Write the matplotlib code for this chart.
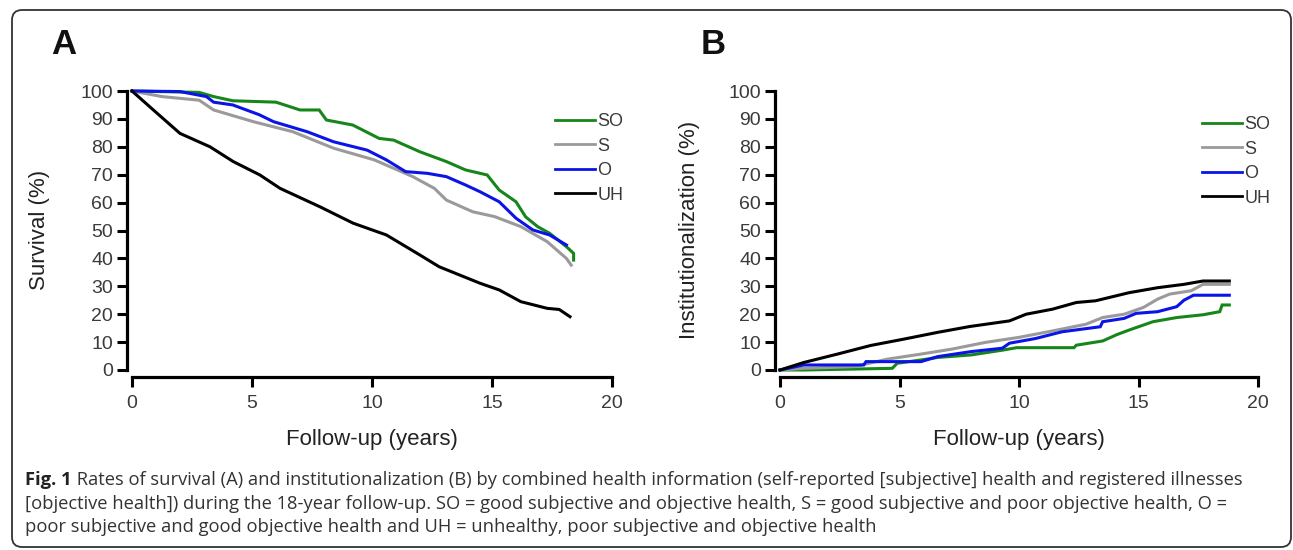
import matplotlib
matplotlib.use("Agg")
from matplotlib import pyplot as plt
from matplotlib.patches import FancyBboxPatch

plt.rcParams["font.family"] = ["Liberation Sans", "DejaVu Sans"]

# ---- data (years, percent) ----
groups = ["SO", "S", "O", "UH"]
colors = ["#17861a", "#9a9a9a", "#0a14e6", "#000000"]

# Panel A: survival
surv_so_t = [0, 2.8, 3.4, 4.2, 6.0, 7.0, 7.8, 8.1, 9.2, 10.3, 10.9, 12.0, 13.1, 13.9,
             14.8, 15.3, 16.0, 16.4, 16.9, 17.4, 18.1, 18.4, 18.4]
surv_so_v = [100, 99.5, 98, 96.5, 96, 93.2, 93.2, 89.6, 87.8, 83, 82.4, 78.2, 74.7, 71.7,
             69.9, 64.5, 60.3, 54.9, 51.4, 49, 44.2, 41.8, 39.4]
surv_s_t = [0, 1.25, 2.8, 3.4, 5.06, 6.7, 8.4, 10.1, 11.7, 12.6, 13.1, 14.2, 15.1, 16.2,
            17.3, 18.1, 18.3]
surv_s_v = [100, 98, 96.7, 93.2, 89, 85.4, 79.5, 75.3, 69.3, 65.1, 60.9, 56.7, 55, 51.4,
            46, 40, 37.6]
surv_o_t = [0, 2.0, 3.1, 3.4, 4.2, 5.3, 5.9, 7.3, 8.4, 9.8, 10.6, 11.4, 12.3, 13.1, 13.9,
            14.5, 15.3, 16.0, 16.7, 17.4, 18.1]
surv_o_v = [100, 99.8, 98, 96, 95, 91.5, 89, 85.4, 81.8, 78.8, 75.3, 71.1, 70.5, 69.3,
            66.3, 63.9, 60.3, 54.4, 50.2, 48.4, 44.8]
surv_uh_t = [0, 0.89, 2.0, 3.25, 4.22, 5.33, 6.17, 7.83, 9.22, 10.6, 12.0, 12.8, 14.5,
             15.3, 16.2, 17.3, 17.8, 18.25]
surv_uh_v = [100, 93.2, 84.8, 80, 74.7, 69.9, 65.1, 58.5, 52.6, 48.4, 41.2, 37, 31.1,
             28.7, 24.5, 22.1, 21.7, 19.1]

# Panel B: institutionalization
inst_so_t = [0, 1.0, 4.7, 4.9, 5.9, 6.6, 8.0, 9.3, 9.9, 12.3, 12.4, 13.5, 14.1, 14.6,
             15.2, 15.6, 16.6, 17.7, 18.4, 18.5, 18.8]
inst_so_v = [0, 0, 0.6, 2.4, 3.6, 4.5, 5.4, 7.1, 8.0, 8.0, 8.9, 10.4, 12.7, 14.3, 16.1,
             17.3, 18.8, 19.8, 20.9, 23.3, 23.3]
inst_s_t = [0, 1.0, 3.1, 4.5, 5.9, 7.2, 8.6, 10.0, 11.4, 12.8, 13.5, 14.4, 15.2, 15.8,
            16.3, 17.2, 17.7, 18.8]
inst_s_v = [0, 0.6, 1.2, 3.9, 5.7, 7.5, 9.9, 11.7, 14, 16.4, 18.8, 20, 22.4, 25.4, 27.2,
            28.4, 30.7, 30.7]
inst_o_t = [0, 1.0, 3.5, 3.6, 5.9, 6.6, 8.0, 9.3, 9.6, 10.7, 11.8, 13.4, 13.5, 14.4,
            14.9, 15.8, 16.6, 16.9, 17.3, 18.8]
inst_o_v = [0, 1.8, 1.8, 3, 3, 4.8, 6.6, 7.8, 9.6, 11.3, 13.7, 15.5, 17.3, 18.5, 20.3,
            20.9, 22.7, 25, 26.8, 26.8]
inst_uh_t = [0, 1.0, 2.4, 3.8, 5.2, 6.6, 7.95, 9.6, 10.3, 11.4, 12.4, 13.2, 14.6, 15.8,
             16.9, 17.7, 18.8]
inst_uh_v = [0, 2.7, 5.7, 8.8, 11.1, 13.5, 15.6, 17.6, 20, 21.8, 24.2, 24.8, 27.7, 29.5,
             30.7, 31.9, 31.9]

xticks = [0, 5, 10, 15, 20]
yticks = list(range(0, 101, 10))

W, H = 1293, 550
fig = plt.figure(figsize=(W / 100, H / 100), dpi=100)


def px(x, y):
    """pixel position (from top-left) -> figure fraction"""
    return x / W, 1 - y / H


def setup_axes(left_px, right_px, ylabel, ylabel_x, letter, letter_x):
    ax = fig.add_axes([left_px / W, (H - 370) / H, (right_px - left_px) / W, 279 / H])
    ax.set_xlim(0, 20)
    ax.set_ylim(0, 100)
    for s in ("top", "right"):
        ax.spines[s].set_visible(False)
    ax.spines["left"].set_position(("outward", 3.6))
    ax.spines["bottom"].set_position(("outward", 5))
    ax.spines["left"].set_bounds(0, 100)
    ax.spines["bottom"].set_bounds(0, 20)
    for s in ("left", "bottom"):
        ax.spines[s].set_linewidth(2.3)
    ax.set_xticks(xticks)
    ax.set_yticks(yticks)
    ax.tick_params(direction="out", length=7, width=2.2, labelsize=14,
                   labelcolor="#3a3a3a")
    ax.tick_params(axis="x", pad=6)
    ax.tick_params(axis="y", pad=3)
    ax.patch.set_alpha(0)
    fig.text(*px(ylabel_x, 230), ylabel, rotation=90, ha="center", va="center",
             fontsize=16, color="#222222")
    fig.text(*px((left_px + right_px) / 2, 440), "Follow-up (years)", ha="center",
             va="center", fontsize=16, color="#222222")
    fig.text(*px(letter_x, 45), letter, ha="center", va="center", fontsize=25,
             fontweight="bold", color="#111111")
    return ax


ax_a = setup_axes(132, 612, "Survival (%)", 40, "A", 64)
ax_b = setup_axes(780, 1258, "Institutionalization (%)", 690, "B", 713)

surv = [(surv_so_t, surv_so_v), (surv_s_t, surv_s_v), (surv_o_t, surv_o_v),
        (surv_uh_t, surv_uh_v)]
inst = [(inst_so_t, inst_so_v), (inst_s_t, inst_s_v), (inst_o_t, inst_o_v),
        (inst_uh_t, inst_uh_v)]

for ax, series, leg_x, leg_y in ((ax_a, surv, 555, 113), (ax_b, inst, 1202, 116)):
    for name, col, (t, v) in zip(groups, colors, series):
        ax.plot(t, v, color=col, lw=2.2, label=name, solid_joinstyle="miter",
                clip_on=False)
    leg = ax.legend(loc="upper left", bbox_to_anchor=px(leg_x, leg_y),
                    bbox_transform=fig.transFigure, frameon=False, fontsize=13,
                    handlelength=2.2, handletextpad=0.15, labelspacing=0.42,
                    borderpad=0, borderaxespad=0, labelcolor="#3a3a3a")
    for line in leg.get_lines():
        line.set_linewidth(2.0)

# ---- caption ----
cap_font = ["Open Sans", "DejaVu Sans"]
cap_size = 13.2
cap_rest = [
    " Rates of survival (A) and institutionalization (B) by combined health information "
    "(self-reported [subjective] health and registered illnesses",
    "[objective health]) during the 18-year follow-up. SO = good subjective and objective "
    "health, S = good subjective and poor objective health, O =",
    "poor subjective and good objective health and UH = unhealthy, poor subjective and "
    "objective health",
]
cap_y = [480, 504, 527]

bold = fig.text(*px(25, cap_y[0]), "Fig. 1", family=cap_font, fontsize=cap_size,
                fontweight="bold", color="#222222", va="center", ha="left")
renderer = fig.canvas.get_renderer()
bx = bold.get_window_extent(renderer).x1
fig.text(bx / W, 1 - cap_y[0] / H, cap_rest[0], family=cap_font, fontsize=cap_size,
         color="#333333", va="center", ha="left")
for txt, yy in zip(cap_rest[1:], cap_y[1:]):
    fig.text(*px(25, yy), txt, family=cap_font, fontsize=cap_size, color="#333333",
             va="center", ha="left")

# ---- rounded outer frame ----
frame = FancyBboxPatch((0.12, 0.03), 12.79, 5.37, boxstyle="round,pad=0,rounding_size=0.1",
                       transform=fig.dpi_scale_trans, fill=False, edgecolor="#333333",
                       linewidth=1.3)
fig.patches.append(frame)

fig.savefig("out.png", dpi=100)
